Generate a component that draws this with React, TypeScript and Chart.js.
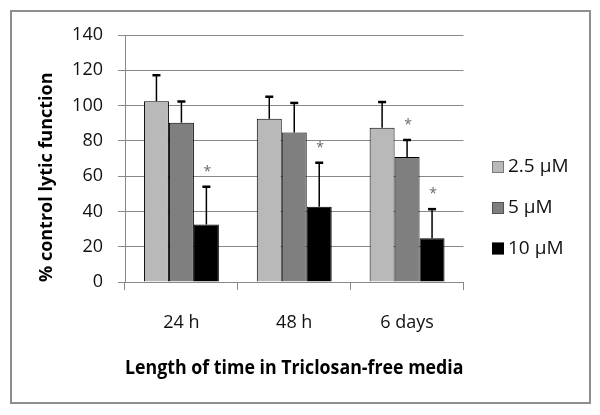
import React, { useEffect, useRef } from "react";
import { Chart, registerables } from "chart.js";

Chart.register(...registerables);

const categories = ["24 h", "48 h", "6 days"];
const seriesLabels = ["2.5 μM", "5 μM", "10 μM"];
const values25 = [102.5, 92.5, 87.5];
const values5 = [90.3, 84.7, 70.8];
const values10 = [32.6, 42.6, 24.8];
const err25 = [14.7, 12.5, 14.5];
const err5 = [12.0, 16.8, 9.7];
const err10 = [21.4, 25.0, 16.5];
const sig25 = [false, false, false];
const sig5 = [false, false, true];
const sig10 = [true, true, true];
const yTicks = [0, 20, 40, 60, 80, 100, 120, 140];
const colors = ["#b9b9b9", "#7f7f7f", "#000000"];

const FONT = "'Open Sans', 'DejaVu Sans', sans-serif";

const framePlugin = {
  id: "frame",
  beforeDraw(chart: any) {
    const ctx = chart.ctx;
    ctx.save();
    ctx.fillStyle = "#ffffff";
    ctx.fillRect(0, 0, chart.width, chart.height);
    ctx.strokeStyle = "#8e8e8e";
    ctx.lineWidth = 2;
    ctx.strokeRect(11, 11, 579, 392);
    ctx.restore();
  },
};

const errorPlugin = {
  id: "errorBars",
  afterDatasetsDraw(chart: any) {
    const ctx = chart.ctx;
    const yScale = chart.scales.y;
    chart.data.datasets.forEach((ds: any, i: number) => {
      const meta = chart.getDatasetMeta(i);
      meta.data.forEach((bar: any, j: number) => {
        const v = ds.data[j];
        const e = ds.errors[j];
        const x = bar.x;
        const yTop = yScale.getPixelForValue(v + e);
        ctx.save();
        ctx.strokeStyle = "#000";
        ctx.lineWidth = 1.5;
        ctx.beginPath();
        ctx.moveTo(x, bar.y);
        ctx.lineTo(x, yTop);
        ctx.stroke();
        ctx.lineWidth = 2.5;
        ctx.beginPath();
        ctx.moveTo(x - 4, yTop);
        ctx.lineTo(x + 4, yTop);
        ctx.stroke();
        if (ds.sig[j]) {
          ctx.fillStyle = "#6a6a6a";
          ctx.font = "14px " + FONT;
          ctx.textAlign = "center";
          ctx.textBaseline = "middle";
          ctx.fillText("*", x + 1, yTop - 15);
        }
        ctx.restore();
      });
    });
  },
};

const legendPlugin = {
  id: "sideLegend",
  afterDraw(chart: any) {
    const ctx = chart.ctx;
    const rows = [167, 208, 248.5];
    chart.data.datasets.forEach((ds: any, i: number) => {
      const cy = rows[i];
      ctx.save();
      ctx.fillStyle = ds.backgroundColor;
      ctx.fillRect(492, cy - 6, 12, 12);
      ctx.strokeStyle = "rgba(0,0,0,0.35)";
      ctx.lineWidth = 1;
      ctx.strokeRect(492.5, cy - 5.5, 11, 11);
      ctx.fillStyle = "#111111";
      ctx.font = "19px " + FONT;
      ctx.textAlign = "left";
      ctx.textBaseline = "middle";
      ctx.fillText(ds.label, 508, cy);
      ctx.restore();
    });
  },
};

export default function App() {
  const ref = useRef<HTMLCanvasElement | null>(null);
  useEffect(() => {
    if (!ref.current) return;
    const allValues = [values25, values5, values10];
    const allErr = [err25, err5, err10];
    const allSig = [sig25, sig5, sig10];
    const chart = new Chart(ref.current, {
      type: "bar",
      data: {
        labels: categories,
        datasets: seriesLabels.map((label, i) => ({
          label,
          data: allValues[i],
          errors: allErr[i],
          sig: allSig[i],
          backgroundColor: colors[i],
          borderColor: "#000000",
          borderWidth: 1,
          barPercentage: 1,
          categoryPercentage: 0.664,
        })) as any,
      },
      options: {
        animation: false,
        responsive: false,
        devicePixelRatio: 1,
        layout: { padding: { left: 11, top: 35, right: 136.5, bottom: 0 } },
        plugins: {
          legend: { display: false },
          tooltip: { enabled: false },
        },
        scales: {
          x: {
            grid: {
              offset: true,
              drawOnChartArea: false,
              drawTicks: true,
              tickLength: 8,
              color: "#888888",
            },
            border: { color: "#888888", width: 1 },
            ticks: {
              font: { family: FONT, size: 18 },
              color: "#111111",
              padding: 22,
            },
            title: {
              display: true,
              text: "Length of time in Triclosan-free media",
              font: { family: FONT, size: 19, weight: "bold" },
              color: "#000000",
              padding: { top: 0, bottom: 35 },
            },
            afterFit(scale: any) {
              scale.height = 133;
            },
          },
          y: {
            min: 0,
            max: 140,
            afterBuildTicks(scale: any) {
              scale.ticks = yTicks.map((v) => ({ value: v }));
            },
            grid: {
              color: "#888888",
              tickLength: 7,
              lineWidth: 1,
            },
            border: { color: "#888888", width: 1 },
            ticks: {
              font: { family: FONT, size: 18 },
              color: "#111111",
              padding: 15,
            },
            title: {
              display: true,
              text: "% control lytic function",
              align: "start",
              font: { family: FONT, size: 18, weight: "bold" },
              color: "#000000",
              padding: { top: 25, bottom: 0 },
            },
            afterFit(scale: any) {
              scale.width = 114;
            },
          },
        },
      } as any,
      plugins: [framePlugin, errorPlugin, legendPlugin],
    });
    return () => chart.destroy();
  }, []);
  return (
    <div style={{ position: "absolute", left: 0, top: 0, width: 600, height: 415 }}>
      <canvas ref={ref} width={600} height={415} />
    </div>
  );
}
